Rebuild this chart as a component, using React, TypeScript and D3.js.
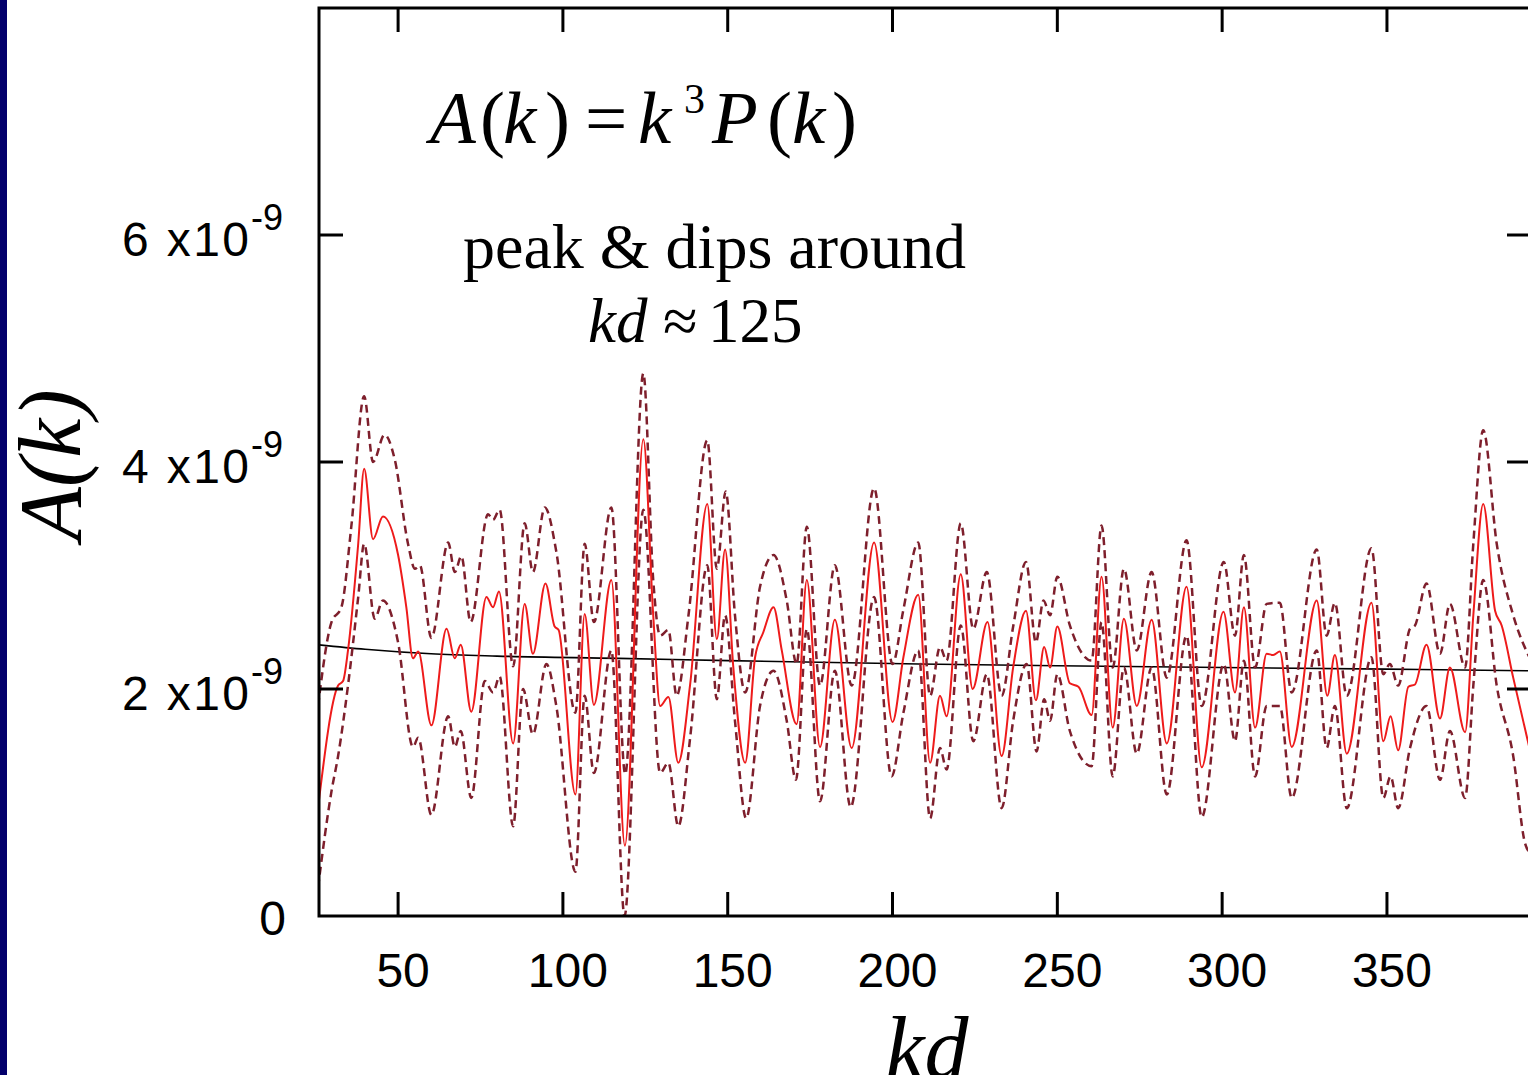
import React from "react";
import { scaleLinear, line, curveMonotoneX } from "d3";

// A(k) in units of 1e-9, kd on the x axis
const redSeries: [number, number][] = [
  [25.7, 0.95], [31.8, 2.03], [33.3, 2.07], [34.8, 2.34], [37.9, 3.28], [39.7, 3.94], [42.4, 3.32],
  [45.4, 3.52], [50.0, 3.18], [52.5, 2.72], [54.5, 2.27], [56.1, 2.33], [60.1, 1.68], [64.7, 2.53],
  [67.2, 2.27], [69.0, 2.39], [72.2, 1.8], [76.8, 2.81], [78.8, 2.72], [80.6, 2.86], [84.9, 1.52],
  [88.4, 2.75], [90.9, 2.31], [94.7, 2.93], [97.5, 2.55], [98.7, 2.52], [103.8, 1.07], [106.6, 2.66],
  [109.4, 1.86], [114.7, 2.96], [118.8, 0.62], [124.4, 4.2], [127.4, 2.65], [129.5, 1.85], [132.0, 1.93],
  [135.0, 1.35], [138.6, 2.04], [143.8, 3.63], [146.7, 2.44], [149.2, 3.23], [151.7, 2.19], [155.3, 1.35],
  [158.3, 2.28], [160.8, 2.5], [163.9, 2.72], [166.4, 2.34], [170.9, 1.69], [174.0, 2.96], [178.0, 1.49],
  [182.5, 2.61], [187.6, 1.48], [194.4, 3.29], [200.0, 1.71], [203.3, 2.28], [207.8, 2.83], [211.4, 1.35],
  [214.4, 1.94], [216.4, 1.76], [220.7, 3.01], [224.3, 2.0], [228.8, 2.59], [233.1, 1.41], [236.6, 2.19],
  [240.5, 2.69], [243.5, 1.9], [246.0, 2.37], [247.8, 2.19], [250.0, 2.55], [253.8, 2.05], [256.4, 2.02],
  [260.4, 1.77], [263.4, 2.99], [266.8, 1.66], [270.2, 2.62], [274.1, 1.85], [278.6, 2.61], [283.2, 1.52],
  [289.2, 2.9], [293.8, 1.31], [300.4, 2.68], [303.9, 1.97], [306.6, 2.72], [310.0, 1.66], [313.5, 2.31],
  [315.5, 2.3], [317.5, 2.33], [321.1, 1.49], [328.7, 2.78], [331.9, 1.94], [334.2, 2.3], [337.8, 1.43],
  [345.3, 2.76], [348.9, 1.54], [351.1, 1.76], [353.4, 1.46], [356.5, 2.02], [358.5, 2.04], [362.0, 2.39],
  [366.1, 1.74], [369.1, 2.19], [373.7, 1.62], [376.2, 2.65], [379.2, 3.63], [382.8, 2.69], [384.8, 2.56],
  [388.3, 2.1], [393.7, 1.42],
];

const upperSeries: [number, number][] = [
  [25.7, 1.85], [29.8, 2.59], [32.8, 2.72], [35.8, 3.43], [39.7, 4.58], [42.4, 4.0], [45.9, 4.24],
  [49.0, 4.02], [53.0, 3.28], [55.1, 3.06], [56.6, 3.09], [60.1, 2.45], [65.2, 3.29], [67.2, 3.03],
  [69.2, 3.17], [72.0, 2.59], [77.3, 3.54], [78.8, 3.49], [80.8, 3.58], [84.9, 2.2], [88.4, 3.46],
  [90.9, 3.03], [94.5, 3.6], [98.0, 3.21], [103.8, 1.79], [106.6, 3.28], [109.4, 2.59], [114.7, 3.6],
  [118.9, 1.25], [124.4, 4.78], [127.4, 2.96], [129.5, 2.47], [132.0, 2.52], [134.5, 1.94], [138.1, 2.65],
  [143.8, 4.19], [146.7, 3.06], [149.4, 3.74], [152.2, 2.65], [155.3, 1.97], [159.8, 2.9], [163.9, 3.18],
  [167.9, 2.78], [170.9, 2.22], [174.0, 3.43], [178.0, 2.03], [182.5, 3.09], [187.6, 2.03], [194.4, 3.77],
  [200.0, 2.22], [203.3, 2.7], [207.8, 3.29], [211.4, 1.94], [214.4, 2.37], [216.4, 2.25], [220.7, 3.46],
  [224.5, 2.53], [228.6, 3.03], [233.1, 1.94], [236.6, 2.55], [240.5, 3.12], [243.5, 2.41], [245.8, 2.78],
  [247.8, 2.65], [250.0, 2.99], [253.8, 2.56], [260.4, 2.25], [263.4, 3.44], [266.8, 2.19], [270.2, 3.06],
  [274.1, 2.34], [278.6, 3.03], [283.2, 2.1], [289.2, 3.31], [293.8, 1.85], [300.5, 3.12], [303.9, 2.47],
  [306.6, 3.18], [310.0, 2.19], [313.5, 2.75], [317.5, 2.76], [321.1, 1.97], [328.7, 3.23], [331.7, 2.47],
  [334.2, 2.76], [337.8, 1.94], [345.3, 3.24], [348.9, 2.13], [350.9, 2.22], [353.4, 2.03], [357.0, 2.53],
  [358.5, 2.56], [362.0, 2.93], [366.1, 2.31], [369.1, 2.75], [373.7, 2.19], [376.2, 3.28], [379.2, 4.28],
  [383.3, 3.28], [388.3, 2.65], [393.7, 2.25],
];

const lowerSeries: [number, number][] = [
  [25.7, 0.25], [29.8, 1.1], [31.8, 1.41], [34.8, 2.03], [37.9, 2.81], [39.7, 3.28], [42.9, 2.62],
  [45.4, 2.78], [50.0, 2.41], [54.5, 1.49], [56.1, 1.57], [60.1, 0.89], [65.2, 1.76], [67.2, 1.49],
  [69.0, 1.63], [72.2, 1.04], [76.3, 2.07], [78.8, 1.97], [80.8, 2.11], [84.9, 0.79], [87.9, 2.0],
  [90.9, 1.6], [95.0, 2.22], [98.0, 1.85], [103.8, 0.39], [106.6, 1.94], [109.4, 1.26], [114.7, 2.34],
  [118.7, 0.0], [124.4, 3.58], [129.5, 1.26], [132.0, 1.35], [135.0, 0.79], [138.6, 1.57], [143.8, 3.09],
  [146.7, 1.91], [149.2, 2.65], [152.2, 1.72], [155.6, 0.86], [159.8, 1.85], [163.9, 2.16], [167.9, 1.72],
  [170.7, 1.2], [174.0, 2.53], [178.0, 1.01], [182.5, 2.16], [187.3, 0.96], [194.4, 2.81], [199.7, 1.23],
  [203.3, 1.79], [207.8, 2.34], [211.4, 0.86], [214.4, 1.48], [216.4, 1.29], [220.7, 2.56], [224.5, 1.54],
  [228.6, 2.13], [233.1, 0.95], [236.6, 1.72], [240.7, 2.22], [243.7, 1.45], [246.0, 1.91], [247.8, 1.72],
  [250.0, 2.13], [253.8, 1.63], [260.4, 1.32], [263.4, 2.59], [266.8, 1.23], [270.2, 2.19], [274.1, 1.43],
  [278.6, 2.19], [283.2, 1.07], [289.2, 2.47], [293.8, 0.87], [300.5, 2.22], [303.9, 1.54], [306.6, 2.25],
  [310.0, 1.23], [313.5, 1.85], [317.5, 1.85], [321.1, 1.04], [328.7, 2.34], [331.7, 1.48], [334.2, 1.85],
  [337.8, 0.95], [345.3, 2.28], [348.9, 1.04], [351.1, 1.23], [353.4, 0.95], [357.0, 1.48], [362.0, 1.85],
  [366.1, 1.2], [369.1, 1.63], [373.7, 1.04], [376.2, 2.03], [379.2, 2.96], [383.3, 2.03], [388.3, 1.41],
  [391.9, 0.64], [393.7, 0.55],
];

const modelSeries: [number, number][] = [
  [25.7, 2.39], [40, 2.35], [60, 2.31], [80, 2.29], [117, 2.27], [150, 2.25],
  [208, 2.22], [250, 2.205], [300, 2.19], [350, 2.175], [393.7, 2.16],
];

const xTicks = [50, 100, 150, 200, 250, 300, 350];
const yTicks = [0, 2, 4, 6];

const W = 1528;
const H = 1075;
const left = 319;
const right = 1531;
const top = 8;
const bottom = 916;
const tickLen = 24;

const x = scaleLinear().domain([25.7, 393.7]).range([318, right]);
const y = scaleLinear().domain([0, 8]).range([bottom, top]);

const makeLine = line<[number, number]>()
  .x((d) => x(d[0]))
  .y((d) => y(d[1]))
  .curve(curveMonotoneX);

const sans = "'Liberation Sans', Arial, Helvetica, sans-serif";
const serif = "'Liberation Serif', 'Times New Roman', Times, serif";

const App = () => {
  return (
    <svg
      width={W}
      height={H}
      style={{ position: "absolute", left: 0, top: 0, background: "#fff" }}
    >
      <rect x={0} y={0} width={W} height={H} fill="#ffffff" />
      <rect x={0} y={0} width={7} height={H} fill="#03006b" />

      <defs>
        <clipPath id="plot">
          <rect x={left} y={top} width={right - left} height={bottom - top} />
        </clipPath>
      </defs>

      <g clipPath="url(#plot)" fill="none">
        <path d={makeLine(modelSeries) || ""} stroke="#000" strokeWidth={1.6} />
        <path
          d={makeLine(upperSeries) || ""}
          stroke="#7e1f2c"
          strokeWidth={2.5}
          strokeDasharray="8 5"
        />
        <path
          d={makeLine(lowerSeries) || ""}
          stroke="#7e1f2c"
          strokeWidth={2.5}
          strokeDasharray="8 5"
        />
        <path d={makeLine(redSeries) || ""} stroke="#ee1b1b" strokeWidth={2} />
      </g>

      {/* frame */}
      <rect
        x={left}
        y={top}
        width={right - left}
        height={bottom - top}
        fill="none"
        stroke="#000"
        strokeWidth={3}
      />

      {xTicks.map((t) => (
        <g key={"x" + t}>
          <line x1={x(t)} x2={x(t)} y1={bottom} y2={bottom - tickLen} stroke="#000" strokeWidth={3} />
          <line x1={x(t)} x2={x(t)} y1={top} y2={top + tickLen} stroke="#000" strokeWidth={3} />
          <text
            x={x(t) + 5}
            y={bottom + 71}
            textAnchor="middle"
            fontFamily={sans}
            fontSize={48}
            fill="#000"
          >
            {t}
          </text>
        </g>
      ))}

      {yTicks.map((t) => (
        <g key={"y" + t}>
          {t > 0 && (
            <>
              <line x1={left} x2={left + tickLen} y1={y(t)} y2={y(t)} stroke="#000" strokeWidth={3} />
              <line x1={right - tickLen} x2={right} y1={y(t)} y2={y(t)} stroke="#000" strokeWidth={3} />
            </>
          )}
          {t === 0 ? (
            <text x={286} y={y(t) + 19} textAnchor="end" fontFamily={sans} fontSize={48} fill="#000">
              0
            </text>
          ) : (
            <>
              <text
                x={122}
                y={y(t) + 21}
                textLength={127}
                lengthAdjust="spacing"
                fontFamily={sans}
                fontSize={48}
                fill="#000"
              >
                {t + " x10"}
              </text>
              <text x={251} y={y(t) - 5} fontFamily={sans} fontSize={36} fill="#000">
                -9
              </text>
            </>
          )}
        </g>
      ))}

      {/* axis titles */}
      <text
        transform="translate(80,465) rotate(-90)"
        textAnchor="middle"
        fontFamily={serif}
        fontStyle="italic"
        fontSize={88}
        fill="#000"
      >
        A(k)
      </text>
      <text
        x={927}
        y={1078}
        textAnchor="middle"
        fontFamily={serif}
        fontStyle="italic"
        fontSize={88}
        fill="#000"
      >
        kd
      </text>

      {/* formula */}
      <text y={143} fontFamily={serif} fontSize={75} fill="#000">
        <tspan x={430} fontStyle="italic">A</tspan>
        <tspan x={480}>(</tspan>
        <tspan x={503} fontStyle="italic">k</tspan>
        <tspan x={545}>)</tspan>
        <tspan x={585}>=</tspan>
        <tspan x={638} fontStyle="italic">k</tspan>
        <tspan x={684} y={113} fontSize={42}>3</tspan>
        <tspan x={712} y={143} fontStyle="italic">P</tspan>
        <tspan x={767}>(</tspan>
        <tspan x={792} fontStyle="italic">k</tspan>
        <tspan x={832}>)</tspan>
      </text>

      <text x={463} y={268} fontFamily={serif} fontSize={64} fill="#000">
        peak &amp; dips around
      </text>
      <text y={342} fontFamily={serif} fontSize={63} fill="#000">
        <tspan x={588} fontStyle="italic">kd</tspan>
        <tspan x={663}>≈</tspan>
        <tspan x={708}>125</tspan>
      </text>
    </svg>
  );
};

export default App;
